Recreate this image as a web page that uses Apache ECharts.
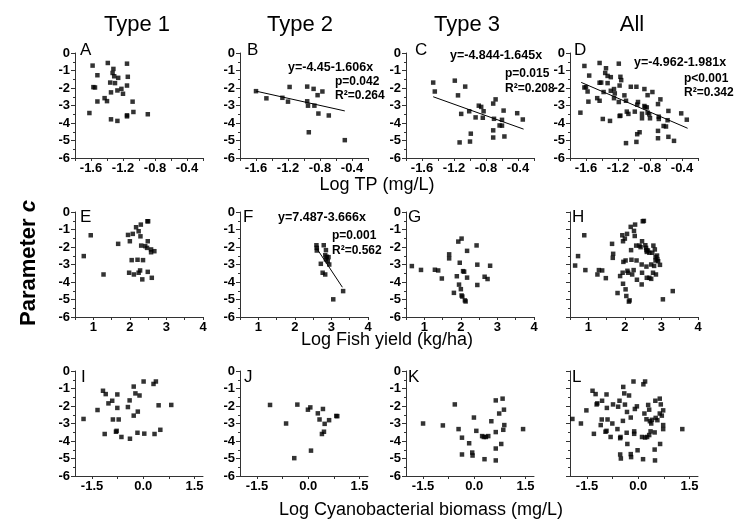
<!DOCTYPE html>
<html>
<head>
<meta charset="utf-8">
<script src="https://cdn.jsdelivr.net/npm/echarts@6/dist/echarts.min.js"></script>
<style>html,body{margin:0;padding:0;background:#fff}#c{width:750px;height:530px}</style>
</head>
<body>
<div id="c"></div>
<script>
// ---------- data ----------
const colTitles = ['Type 1', 'Type 2', 'Type 3', 'All'];
const rowTitles = ['Log TP (mg/L)', 'Log Fish yield (kg/ha)', 'Log Cyanobacterial biomass (mg/L)'];
const panelLetters = ['A','B','C','D','E','F','G','H','I','J','K','L'];
const yTickLabels = [0, -1, -2, -3, -4, -5, -6];
const xTickLabelsTP = [-1.6, -1.2, -0.8, -0.4];
const xTickLabelsFish = [1, 2, 3, 4];
const xTickLabelsCyan = [-1.5, 0.0, 1.5];

const ptsA = [[-1.58,-0.72],[-1.39,-0.57],[-1.15,-0.61],[-1.32,-0.91],[-1.33,-1.14],[-1.52,-1.27],[-1.31,-1.33],[-1.26,-1.42],[-1.14,-1.36],[-1.36,-1.69],[-1.30,-1.72],[-1.57,-1.95],[-1.55,-1.97],[-1.15,-1.86],[-1.22,-2.05],[-1.27,-2.14],[-1.35,-2.25],[-1.20,-2.33],[-1.43,-2.58],[-1.40,-2.75],[-1.52,-2.77],[-1.08,-2.78],[-1.62,-3.43],[-1.07,-3.37],[-1.15,-3.56],[-1.15,-3.62],[-0.89,-3.50],[-1.35,-3.79],[-1.27,-3.88]];
const ptsB = [[-1.60,-2.18],[-1.47,-2.59],[-1.27,-2.56],[-1.20,-2.78],[-1.18,-1.94],[-0.96,-1.92],[-0.88,-2.05],[-0.77,-2.20],[-0.83,-2.41],[-0.96,-2.76],[-0.95,-3.01],[-0.87,-3.01],[-0.82,-3.46],[-0.69,-3.57],[-0.94,-4.53],[-0.49,-4.98]];
const lineB = [[-1.60,-2.18],[-0.49,-3.31]];
const ptsC = [[-1.46,-1.69],[-1.44,-2.20],[-1.19,-1.58],[-1.06,-1.92],[-1.15,-2.42],[-1.11,-3.48],[-1.01,-3.33],[-0.93,-3.68],[-0.89,-3.01],[-0.86,-3.08],[-0.83,-3.33],[-0.84,-3.70],[-0.99,-4.61],[-1.00,-5.06],[-1.13,-5.11],[-0.71,-2.89],[-0.68,-2.65],[-0.70,-3.76],[-0.58,-3.29],[-0.60,-3.82],[-0.63,-4.14],[-0.60,-4.15],[-0.71,-4.42],[-0.71,-4.83],[-0.57,-4.77],[-0.41,-3.44],[-0.34,-3.80]];
const lineC = [[-1.46,-2.50],[-0.33,-4.35]];
const ptsD = [[-1.62,-0.74],[-1.43,-0.57],[-1.19,-0.61],[-1.35,-0.87],[-1.36,-1.14],[-1.33,-1.31],[-1.29,-1.38],[-1.56,-1.29],[-1.17,-1.36],[-1.16,-1.55],[-1.41,-1.69],[-1.43,-1.70],[-1.33,-1.72],[-1.62,-1.97],[-1.60,-1.95],[-1.18,-1.86],[-1.04,-1.93],[-0.97,-1.93],[-1.25,-2.06],[-1.29,-2.16],[-1.58,-2.20],[-1.38,-2.23],[-1.12,-2.42],[-1.24,-2.31],[-0.87,-2.06],[-0.77,-2.23],[-1.46,-2.58],[-1.43,-2.73],[-1.57,-2.78],[-1.25,-2.58],[-1.19,-2.80],[-1.10,-2.73],[-0.95,-2.80],[-0.83,-2.41],[-0.67,-2.65],[-0.96,-2.95],[-0.87,-3.03],[-0.86,-3.09],[-0.84,-3.11],[-0.70,-2.92],[-1.09,-3.35],[-1.07,-3.48],[-1.17,-3.58],[-1.18,-3.60],[-0.99,-3.35],[-0.90,-3.47],[-0.83,-3.41],[-0.81,-3.50],[-0.90,-3.73],[-0.80,-3.73],[-0.69,-3.64],[-0.69,-3.77],[-0.58,-3.84],[-0.57,-3.31],[-0.41,-3.45],[-0.34,-3.81],[-1.67,-3.41],[-1.39,-3.77],[-1.30,-3.88],[-0.63,-4.17],[-0.60,-4.20],[-0.70,-4.45],[-0.93,-4.53],[-0.96,-4.64],[-0.70,-4.87],[-0.57,-4.79],[-0.50,-5.02],[-0.97,-5.08],[-1.10,-5.15]];
const lineD = [[-1.66,-1.68],[-0.33,-4.30]];
const ptsE = [[0.93,-1.33],[0.74,-2.52],[1.28,-3.57],[1.68,-1.82],[1.95,-1.31],[2.08,-1.25],[2.00,-1.67],[2.17,-0.87],[2.30,-0.72],[2.24,-1.10],[2.29,-1.39],[2.48,-0.53],[2.50,-0.53],[2.49,-1.67],[2.31,-1.92],[2.42,-1.95],[2.47,-2.05],[2.58,-2.14],[2.67,-2.24],[2.58,-2.30],[2.05,-2.75],[2.21,-2.73],[2.36,-2.75],[1.98,-3.47],[2.11,-3.57],[2.24,-3.47],[2.28,-3.34],[2.49,-3.42],[2.34,-3.85],[2.60,-3.76]];
const ptsF = [[2.59,-1.90],[2.60,-2.05],[2.60,-2.20],[2.79,-1.90],[2.85,-2.18],[2.83,-2.47],[2.87,-2.56],[2.92,-2.58],[2.85,-2.71],[2.90,-2.81],[2.94,-3.00],[2.71,-2.96],[2.76,-3.47],[2.83,-3.57],[3.32,-4.52],[3.05,-4.99]];
const lineF = [[2.62,-2.15],[3.30,-4.30]];
const ptsG = [[0.66,-3.09],[0.91,-3.31],[1.29,-3.30],[1.38,-3.34],[1.48,-3.80],[1.68,-2.42],[1.68,-2.65],[1.93,-1.69],[2.02,-1.52],[2.43,-1.91],[2.17,-2.22],[1.97,-2.90],[2.45,-3.01],[2.80,-3.07],[2.06,-3.38],[2.09,-3.41],[1.89,-3.67],[2.17,-3.75],[2.65,-3.70],[2.73,-3.83],[1.95,-4.15],[2.45,-4.17],[2.00,-4.41],[1.81,-4.62],[2.02,-4.77],[2.04,-4.83],[2.11,-5.05],[2.13,-5.11]];
const ptsH = [[0.89,-1.33],[0.72,-2.52],[0.64,-3.06],[0.92,-3.32],[1.25,-3.57],[1.29,-3.32],[1.38,-3.34],[1.48,-3.78],[1.65,-1.82],[1.68,-2.39],[1.67,-2.62],[1.80,-4.63],[1.87,-3.66],[1.94,-3.47],[1.95,-4.10],[1.95,-1.67],[1.93,-1.33],[1.96,-2.85],[2.02,-2.77],[2.00,-1.52],[2.02,-4.42],[2.04,-4.80],[2.06,-1.25],[2.07,-3.36],[2.09,-3.47],[2.11,-5.12],[2.13,-5.05],[2.16,-0.85],[2.17,-2.18],[2.18,-2.73],[2.20,-3.57],[2.25,-1.08],[2.24,-3.32],[2.27,-1.37],[2.28,-0.72],[2.31,-1.92],[2.32,-2.77],[2.33,-3.87],[2.40,-1.92],[2.43,-2.01],[2.46,-3.00],[2.47,-3.47],[2.46,-4.14],[2.47,-1.67],[2.49,-0.53],[2.52,-0.51],[2.56,-1.90],[2.58,-2.05],[2.59,-2.18],[2.60,-2.28],[2.59,-3.12],[2.60,-3.76],[2.63,-2.20],[2.67,-2.33],[2.67,-3.76],[2.72,-3.82],[2.75,-2.33],[2.72,-3.00],[2.78,-1.92],[2.77,-3.47],[2.80,-3.08],[2.82,-2.14],[2.84,-2.58],[2.84,-2.77],[2.85,-3.57],[2.88,-2.49],[2.89,-2.71],[2.91,-2.81],[2.96,-3.02],[3.04,-4.99],[3.31,-4.52]];
const ptsI = [[-1.75,-2.74],[-1.34,-2.23],[-1.18,-1.13],[-1.10,-1.32],[-1.02,-1.85],[-0.91,-1.70],[-0.76,-1.34],[-0.76,-2.11],[-0.89,-2.77],[-0.72,-2.77],[-1.13,-3.60],[-0.80,-3.47],[-0.78,-3.42],[-0.64,-3.77],[-0.39,-3.87],[-0.45,-2.06],[-0.40,-1.68],[-0.28,-0.89],[-0.23,-1.28],[-0.11,-1.40],[0.01,-0.60],[-0.28,-2.55],[-0.16,-2.32],[-0.17,-3.53],[0.03,-3.58],[0.30,-0.74],[0.37,-0.60],[0.33,-3.60],[0.45,-1.96],[0.50,-3.36],[0.82,-1.94]];
const ptsJ = [[-1.12,-1.94],[-0.65,-3.00],[-0.41,-4.98],[-0.32,-1.92],[-0.01,-2.21],[0.06,-2.08],[0.08,-4.55],[0.28,-2.42],[0.33,-2.77],[0.43,-2.17],[0.48,-3.02],[0.46,-3.47],[0.40,-3.60],[0.61,-2.81],[0.82,-2.57],[0.85,-2.58]];
const ptsK = [[-1.50,-3.00],[-0.92,-3.11],[-0.57,-1.91],[-0.46,-3.32],[-0.36,-3.81],[-0.36,-4.77],[-0.15,-4.13],[-0.06,-4.66],[-0.05,-4.83],[-0.01,-2.66],[0.06,-3.42],[0.23,-3.72],[0.28,-3.77],[0.34,-3.77],[0.41,-3.72],[0.30,-5.04],[0.50,-2.87],[0.63,-1.68],[0.83,-1.58],[0.73,-2.43],[0.87,-2.21],[0.63,-3.49],[0.79,-4.17],[0.63,-4.43],[0.63,-5.11],[0.88,-3.09],[0.85,-3.36],[1.43,-3.32]];
const ptsL = [[-1.93,-2.74],[-1.68,-3.00],[-1.52,-2.25],[-1.30,-3.59],[-1.34,-1.13],[-1.25,-1.32],[-1.20,-1.85],[-1.22,-1.91],[-1.06,-1.70],[-0.93,-1.34],[-0.92,-2.11],[-1.07,-2.77],[-0.90,-2.77],[-1.10,-3.09],[-0.96,-3.47],[-0.93,-3.42],[-0.81,-3.77],[-0.76,-3.00],[-0.74,-1.91],[-0.61,-3.32],[-0.59,-2.04],[-0.55,-1.70],[-0.53,-3.84],[-0.52,-3.77],[-0.53,-4.77],[-0.51,-5.00],[-0.45,-2.85],[-0.44,-0.91],[-0.41,-1.28],[-0.39,-1.92],[-0.34,-3.53],[-0.32,-4.17],[-0.33,-2.34],[-0.27,-1.40],[-0.22,-2.66],[-0.22,-4.75],[-0.21,-4.92],[-0.14,-0.60],[-0.12,-3.59],[-0.12,-3.45],[-0.10,-2.17],[-0.04,-2.02],[-0.02,-4.53],[0.11,-3.77],[0.14,-5.04],[0.15,-0.76],[0.18,-2.43],[0.20,-0.60],[0.20,-3.80],[0.24,-2.76],[0.26,-3.77],[0.29,-1.94],[0.32,-2.21],[0.32,-3.66],[0.34,-2.87],[0.36,-3.45],[0.38,-3.00],[0.40,-2.79],[0.48,-3.51],[0.50,-1.70],[0.51,-2.68],[0.48,-4.49],[0.49,-5.11],[0.56,-2.81],[0.63,-1.58],[0.66,-1.91],[0.73,-2.25],[0.63,-2.43],[0.69,-2.55],[0.73,-3.32],[0.73,-3.09],[0.64,-4.17],[1.29,-3.32]];

const eqB = ['y=-4.45-1.606x', 'p=0.042', 'R²=0.264'];
const eqC = ['y=-4.844-1.645x', 'p=0.015', 'R²=0.208'];
const eqD = ['y=-4.962-1.981x', 'p<0.001', 'R²=0.342'];
const eqF = ['y=7.487-3.666x', 'p=0.001', 'R²=0.562'];

// ---------- layout ----------
const FONT = '"Liberation Sans", Arial, Helvetica, sans-serif';
const colLeft = [75, 240, 406, 570];
const rowTop = [53, 212, 371];
const GW = 128, GH = 105;
const xRange = [[-1.8, -0.2], [0.5, 4], [-2, 1.75]];
const xTickStart = [-1.8, 0.5, -1.5];
const xTickStep = [0.2, 0.5, 0.75];
const xLabelVals = [xTickLabelsTP, xTickLabelsFish, xTickLabelsCyan];
const xFmt = [v => v.toFixed(1), v => String(Math.round(v)), v => v.toFixed(1)];

const panels = [ptsA, ptsB, ptsC, ptsD, ptsE, ptsF, ptsG, ptsH, ptsI, ptsJ, ptsK, ptsL];
const lines = {1: lineB, 2: lineC, 3: lineD, 5: lineF};

function stepVals(a, b, s) {
  const out = [];
  const n = Math.floor((b - a) / s + 1e-6);
  for (let i = 0; i <= n; i++) out.push(+(a + i * s).toFixed(4));
  return out;
}

const grid = [], xAxis = [], yAxis = [], series = [];
for (let i = 0; i < 12; i++) {
  const r = Math.floor(i / 4), c = i % 4;
  grid.push({left: colLeft[c], top: rowTop[r], width: GW, height: GH, containLabel: false});
  const lv = xLabelVals[r];
  const fmt = xFmt[r];
  xAxis.push({
    type: 'value', gridIndex: i, min: xRange[r][0], max: xRange[r][1],
    axisLine: {show: true, onZero: false, lineStyle: {color: '#333', width: 1}},
    axisTick: {show: true, inside: false, length: 3, lineStyle: {color: '#333'},
      customValues: stepVals(xTickStart[r], xRange[r][1], xTickStep[r])},
    axisLabel: {show: true, customValues: lv, formatter: v => fmt(v), margin: 4,
      color: '#000', fontWeight: 'bold', fontSize: 13, fontFamily: FONT},
    splitLine: {show: false}
  });
  const showY = !(c === 3 && r > 0);
  yAxis.push({
    type: 'value', gridIndex: i, min: -6, max: 0, interval: 1,
    axisLine: {show: true, onZero: false, lineStyle: {color: '#333', width: 1}},
    axisTick: {show: true, inside: false, length: 4, lineStyle: {color: '#333'}},
    minorTick: {show: true, splitNumber: 2, length: 2, lineStyle: {color: '#333'}},
    axisLabel: {show: showY, customValues: yTickLabels, margin: 5, color: '#000', fontWeight: 'bold',
      fontSize: 13, fontFamily: FONT, formatter: v => String(Math.round(v))},
    splitLine: {show: false}
  });
  series.push({
    type: 'scatter', xAxisIndex: i, yAxisIndex: i, data: panels[i],
    symbol: 'rect', symbolSize: 4.5, itemStyle: {color: '#000'}, silent: true
  });
  if (lines[i]) {
    series.push({
      type: 'line', xAxisIndex: i, yAxisIndex: i, data: lines[i],
      showSymbol: false, symbol: 'none', lineStyle: {color: '#000', width: 1}, silent: true
    });
  }
}

function txt(x, y, text, font, align, vAlign) {
  return {type: 'text', x: x, y: y, silent: true,
    style: {text: text, font: font, fill: '#000', align: align || 'left', textAlign: align || 'left',
      verticalAlign: vAlign || 'middle', textVerticalAlign: vAlign || 'middle'}};
}

const graphic = [];
// column titles
const titleX = [137, 300, 467, 632];
colTitles.forEach((t, k) => graphic.push(txt(titleX[k], 25, t, '22px ' + FONT, 'center')));
// axis titles
const axisTitlePos = [[377, 185], [387, 340], [421, 510]];
rowTitles.forEach((t, k) => graphic.push(txt(axisTitlePos[k][0], axisTitlePos[k][1], t, '18px ' + FONT, 'center')));
// panel letters
const letterOff = [[5, -11], [7, -11], [9, -11], [4, -11], [5, -3], [3, -3], [2, -3], [2, -3], [6, -2], [4, -2], [2, -2], [2, -2]];
panelLetters.forEach((L, i) => {
  const r = Math.floor(i / 4), c = i % 4;
  graphic.push(txt(colLeft[c] + letterOff[i][0], rowTop[r] + letterOff[i][1], L, '17px ' + FONT, 'left', 'top'));
});
// regression annotations
function eqBlock(eq, ex, ey, px, py, ry) {
  graphic.push(txt(ex, ey, eq[0], 'bold 12.5px ' + FONT, 'left'));
  graphic.push(txt(px, py, eq[1], 'bold 12px ' + FONT, 'left'));
  graphic.push(txt(px, ry, eq[2], 'bold 12px ' + FONT, 'left'));
}
eqBlock(eqB, 288, 68, 335, 82, 96);
eqBlock(eqC, 450, 56, 505, 74, 89);
eqBlock(eqD, 634, 63, 684, 79, 93);
eqBlock(eqF, 278, 218, 332, 236, 251);
// y-axis title
graphic.push({type: 'text', x: 29, y: 263, rotation: Math.PI / 2, silent: true,
  style: {text: '{b|Parameter }{i|c}', align: 'center', textAlign: 'center', verticalAlign: 'middle', textVerticalAlign: 'middle',
    fill: '#000',
    rich: {b: {font: 'bold 22px ' + FONT, fill: '#000'}, i: {font: 'italic bold 22px ' + FONT, fill: '#000'}}}});

const chart = echarts.init(document.getElementById('c'), null, {renderer: 'canvas'});
chart.setOption({
  backgroundColor: '#fff',
  animation: false,
  grid: grid, xAxis: xAxis, yAxis: yAxis, series: series, graphic: graphic
});
</script>
</body>
</html>
